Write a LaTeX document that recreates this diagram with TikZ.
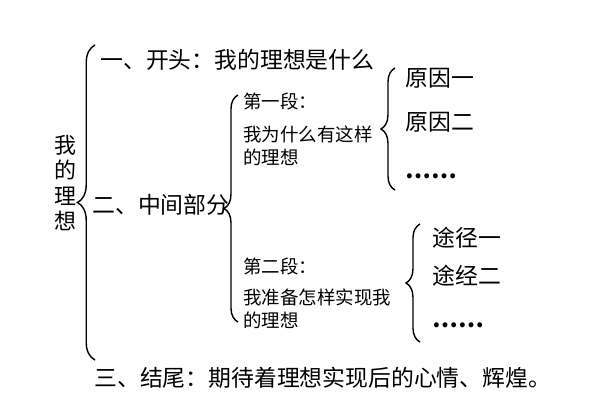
\documentclass[tikz,border=0pt]{standalone}
\usepackage{fontspec}
\setmainfont{Noto Sans CJK SC}
\usetikzlibrary{positioning,decorations.pathreplacing}
\tikzset{line/.style = {draw,thick,decorate,decoration={brace,amplitude=8pt,aspect=0.5}}}

\begin{document}
\begin{tikzpicture}[x=0.02cm,y=-0.02cm,
            big/.style = {anchor=west, inner sep=0pt, font=\fontsize{13}{15}\selectfont},
            small/.style = {anchor=west, inner sep=0pt, font=\fontsize{10.5}{13}\selectfont, align=left}]
            \useasboundingbox (0,0) rectangle (600,400);
            % title
            \node[inner sep=0pt, align=center, font=\fontsize{12.5}{14.5}\selectfont] (title) at (65,183) {我\\的\\理\\想};
            \coordinate (b1top) at (95,45);
            \coordinate (b1bot) at (95,360);
            \path [line, decoration={amplitude=10pt}] (b1bot) -- (b1top);
            \node[big] (part1) at (100,60) {一、开头：我的理想是什么};
            \node[big] (part2) at (92,205) {二、中间部分};
            \node[big] (part3) at (94,378) {三、结尾：期待着理想实现后的心情、辉煌。};
            % middle part
            \coordinate (b2top) at (238,95);
            \coordinate (b2bot) at (238,322);
            \path [line] (b2bot) -- (b2top);
            \node[small] (sec1) at (243,101) {第一段：};
            \node[small] (why) at (243,146) {我为什么有这样\\的理想};
            \node[small] (sec2) at (243,266) {第二段：};
            \node[small] (how) at (243,309) {我准备怎样实现我\\的理想};
            % reasons
            \coordinate (b3top) at (395,68);
            \coordinate (b3bot) at (395,190);
            \path [line] (b3bot) -- (b3top);
            \node[big] (r1) at (405,78) {原因一};
            \node[big] (r2) at (405,122) {原因二};
            \node[big, font=\fontsize{13}{15}\bfseries] (r3) at (405,176) {\textbf{……}};
            % ways
            \coordinate (b4top) at (420,224);
            \coordinate (b4bot) at (420,342);
            \path [line] (b4bot) -- (b4top);
            \node[big] (w1) at (432,238) {途径一};
            \node[big] (w2) at (432,276) {途经二};
            \node[big, font=\fontsize{13}{15}\bfseries] (w3) at (432,325) {\textbf{……}};
\end{tikzpicture}
\end{document}
